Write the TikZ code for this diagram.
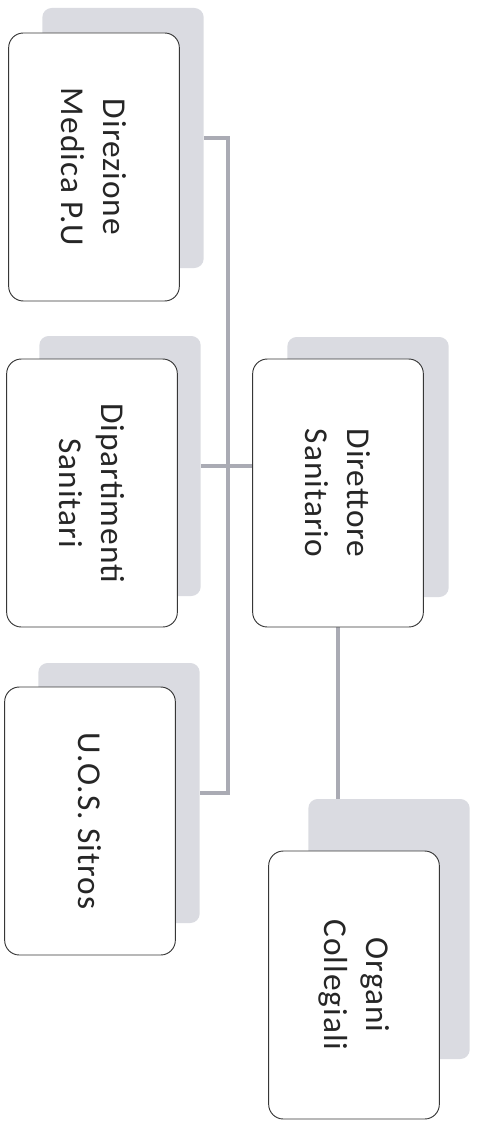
\documentclass[tikz,border=0pt]{standalone}
\usepackage{fontspec}
\setmainfont{Carlito}[LetterSpace=3]
\usetikzlibrary{positioning,backgrounds}
\definecolor{backgray}{RGB}{218,219,225}
\definecolor{linkgray}{RGB}{170,171,180}
\definecolor{edgegray}{RGB}{55,55,55}

\begin{document}
\begin{tikzpicture}[x=0.75pt, y=-0.75pt,
            every node/.style = {rectangle, rotate=-90, align=center, text=black!85,
                                 font=\fontsize{25}{31}\selectfont},
            card/.style = {draw=edgegray, line width=0.7pt, fill=white, rounded corners=11pt,
                           minimum width=201pt, minimum height=128pt},
            back/.style = {fill=backgray, rounded corners=7pt,
                           minimum width=195pt, minimum height=121pt}
                            ]
            \useasboundingbox (0,0) rectangle (478,1123);
            \node[card] (MED) at (94,167)   {Direzione\\Medica P.U};
            \node[card] (DIP) at (92,493)   {Dipartimenti\\Sanitari};
            \node[card] (UOS) at (90,821)   {U.O.S. Sitros};
            \node[card] (DIR) at (338,493)  {Direttore\\Sanitario};
            \node[card] (ORG) at (354,985)  {Organi\\Collegiali};
            %
            \begin{scope}[on background layer]
            \node[back] (MED-s) at ([shift={(29,-29)}]MED.center) {};
            \node[back] (DIP-s) at ([shift={(28,-27)}]DIP.center) {};
            \node[back] (UOS-s) at ([shift={(29,-28)}]UOS.center) {};
            \node[back] (DIR-s) at ([shift={(30,-26)}]DIR.center) {};
            \node[back] (ORG-s) at ([shift={(35,-56)}]ORG.center) {};
            \draw [linkgray, line width=2.4pt]
                        (MED-s.north) -- ++(24,0) |- (UOS-s.north)
                        (DIP-s.north) -- (DIP-s.north -| DIR.south)
                        (DIR.east) -- (DIR.east |- ORG-s.west);
            \end{scope}
\end{tikzpicture}
\end{document}
